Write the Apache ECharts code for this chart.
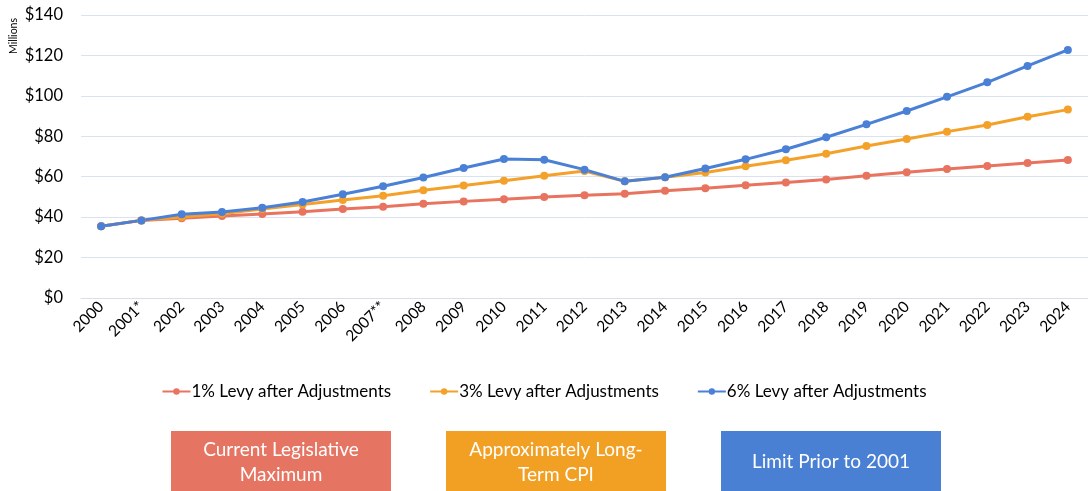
<!DOCTYPE html>
<html><head><meta charset="utf-8">
<script src="https://cdn.jsdelivr.net/npm/echarts@6/dist/echarts.min.js"></script>
<style>html,body{margin:0;padding:0;background:#fff}#c{width:1088px;height:491px}</style>
</head><body><div id="c"></div>
<script>
const categories = ['2000','2001*','2002','2003','2004','2005','2006','2007**','2008','2009','2010','2011','2012','2013','2014','2015','2016','2017','2018','2019','2020','2021','2022','2023','2024'];
const levy1 = [35.5,38.4,39.4,40.6,41.6,42.7,44.0,45.2,46.6,47.8,48.8,50.0,50.8,51.6,53.1,54.3,55.8,57.1,58.6,60.5,62.2,63.8,65.3,66.8,68.3];
const levy3 = [35.5,38.4,40.1,41.7,44.0,46.2,48.5,50.6,53.3,55.6,58.0,60.5,62.8,57.7,59.7,62.1,65.2,68.1,71.4,75.2,78.7,82.3,85.6,89.7,93.2];
const levy6 = [35.5,38.4,41.4,42.5,44.7,47.5,51.3,55.3,59.6,64.3,68.8,68.4,63.5,57.7,59.7,64.1,68.6,73.6,79.5,85.9,92.5,99.5,106.7,114.8,122.7];
const seriesNames = ['1% Levy after Adjustments','3% Levy after Adjustments','6% Levy after Adjustments'];
const boxLabels = ['Current Legislative\nMaximum','Approximately Long-\nTerm CPI','Limit Prior to 2001'];
const colors = ['#E8735F','#F4A12A','#4A80D6'];
const boxColors = ['#E57562','#F2A024','#4A80D4'];
const font = 'Lato, "Open Sans", sans-serif';

const chart = echarts.init(document.getElementById('c'), null, {renderer:'canvas'});
const mk = (name, data, color) => ({
  name, type:'line', data, symbol:'circle', symbolSize:8,
  lineStyle:{width:3, color}, itemStyle:{color}, animation:false
});
const boxX = [171, 446, 721];
chart.setOption({
  animation:false,
  textStyle:{fontFamily:font},
  grid:{left:81, top:15, width:1013, height:283, containLabel:false},
  xAxis:{type:'category', data:categories, boundaryGap:true,
    axisLine:{show:true, lineStyle:{color:'#D9DEE8', width:1}},
    axisTick:{show:false},
    axisLabel:{rotate:45, fontSize:15.5, color:'#000', margin:6, interval:0, fontFamily:font}},
  yAxis:{type:'value', min:0, max:140, interval:20,
    axisLine:{show:false}, axisTick:{show:false},
    splitLine:{lineStyle:{color:'#D9E2EE', width:1}},
    axisLabel:{formatter:v=>'$'+v, fontSize:16.5, color:'#000', margin:18, fontFamily:font}},
  legend:{top:378, left:'center', itemGap:38, itemWidth:28, itemHeight:8,
    textStyle:{fontSize:17, color:'#000', fontFamily:font, padding:[0,0,0,-4]},
    data:seriesNames},
  series:[mk(seriesNames[0], levy1, colors[0]), mk(seriesNames[1], levy3, colors[1]), mk(seriesNames[2], levy6, colors[2])],
  graphic:[
    {type:'text', left:8, top:18, rotation:Math.PI/2, style:{text:'Millions', fontSize:10.5, fill:'#000', fontFamily:font}},
    ...boxLabels.map((t,i)=>({type:'group', left:boxX[i], top:431, children:[
      {type:'rect', shape:{x:0,y:0,width:220,height:60}, style:{fill:boxColors[i]}},
      {type:'text', x:110, y:31, style:{text:t, fill:'#fff', fontSize:19, fontFamily:font, align:'center', verticalAlign:'middle', lineHeight:25}}
    ]}))
  ]
});
</script></body></html>
